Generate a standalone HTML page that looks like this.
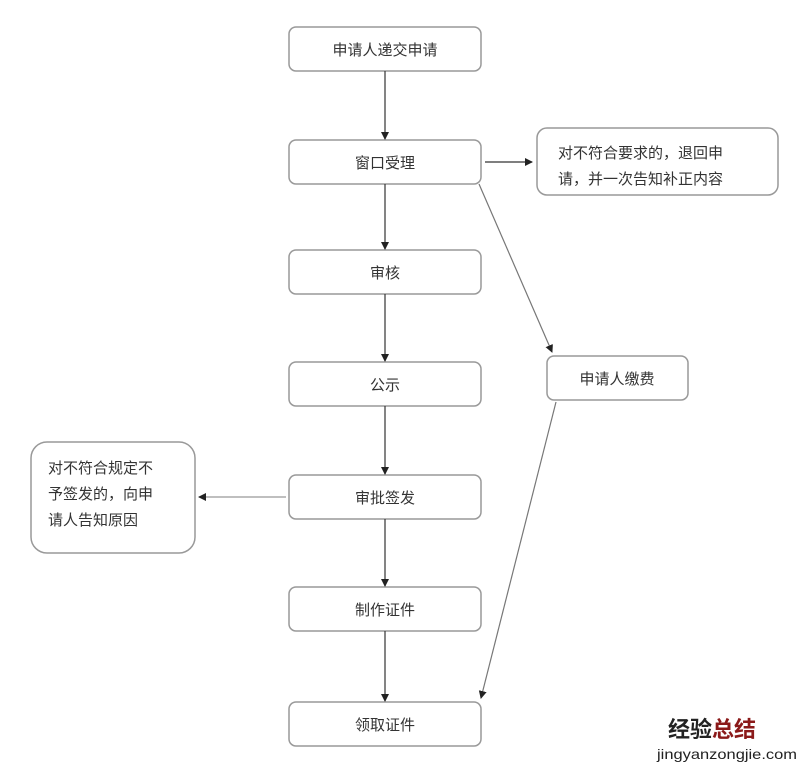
<!DOCTYPE html>
<html><head><meta charset="utf-8"><style>
body{margin:0;width:800px;height:769px;background:#fff;overflow:hidden}
svg text{font-family:"Liberation Sans","Noto Sans CJK SC",sans-serif;fill:#333;font-size:15px}
</style></head><body>
<svg width="800" height="769" xmlns="http://www.w3.org/2000/svg">
<defs><marker id="a" markerWidth="8" markerHeight="8" refX="7" refY="4" orient="auto" markerUnits="userSpaceOnUse"><path d="M0,0 L8,4 L0,8 z" fill="#222"/></marker></defs>
<g fill="#fff" stroke="#999" stroke-width="1.5">
<rect x="289" y="27" width="192" height="44" rx="7"/>
<rect x="289" y="140" width="192" height="44" rx="7"/>
<rect x="289" y="250" width="192" height="44" rx="7"/>
<rect x="289" y="362" width="192" height="44" rx="7"/>
<rect x="289" y="475" width="192" height="44" rx="7"/>
<rect x="289" y="587" width="192" height="44" rx="7"/>
<rect x="289" y="702" width="192" height="44" rx="7"/>
<rect x="537" y="128" width="241" height="67" rx="10"/>
<rect x="547" y="356" width="141" height="44" rx="7"/>
<rect x="31" y="442" width="164" height="111" rx="16"/>
</g>
<g stroke="#333" stroke-width="1.2" fill="none" marker-end="url(#a)">
<line x1="385" y1="71" x2="385" y2="139"/>
<line x1="385" y1="184" x2="385" y2="249"/>
<line x1="385" y1="294" x2="385" y2="361"/>
<line x1="385" y1="406" x2="385" y2="474"/>
<line x1="385" y1="519" x2="385" y2="586"/>
<line x1="385" y1="631" x2="385" y2="701"/>
<line x1="485" y1="162" x2="532" y2="162"/>
<line x1="479" y1="184" x2="552" y2="352" stroke="#777"/>
<line x1="556" y1="402" x2="481" y2="698" stroke="#777"/>
<line x1="286" y1="497" x2="199" y2="497" stroke="#999"/>
</g>
<g text-anchor="middle">
<text x="385" y="55">申请人递交申请</text>
<text x="385" y="168">窗口受理</text>
<text x="385" y="278">审核</text>
<text x="385" y="390">公示</text>
<text x="385" y="503">审批签发</text>
<text x="385" y="615">制作证件</text>
<text x="385" y="730">领取证件</text>
<text x="617" y="384">申请人缴费</text>
</g>
<text x="558" y="158">对不符合要求的，退回申</text>
<text x="558" y="184">请，并一次告知补正内容</text>
<text x="48" y="473">对不符合规定不</text>
<text x="48" y="499">予签发的，向申</text>
<text x="48" y="525">请人告知原因</text>
<text x="668" y="737" style="font-size:22px;fill:#222;font-weight:bold">经验<tspan style="fill:#8b1a1a">总结</tspan></text>
<text x="657" y="759" textLength="140" lengthAdjust="spacingAndGlyphs" style="font-size:14px;fill:#222">jingyanzongjie.com</text>
</svg>
</body></html>
